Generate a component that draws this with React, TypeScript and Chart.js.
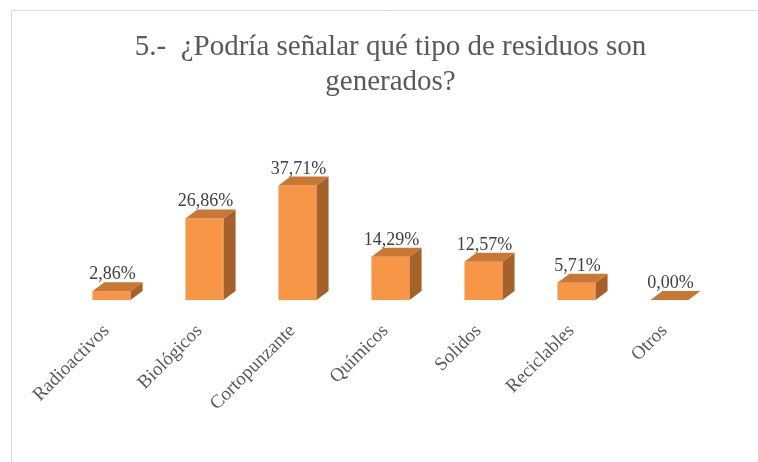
import React, { useEffect, useRef } from "react";
import { Chart, registerables } from "chart.js";

Chart.register(...registerables);

const categories = ["Radioactivos", "Biológicos", "Cortopunzante", "Químicos", "Solidos", "Reciclables", "Otros"];
const values = [2.86, 26.86, 37.71, 14.29, 12.57, 5.71, 0.0];
const valueLabels = ["2,86%", "26,86%", "37,71%", "14,29%", "12,57%", "5,71%", "0,00%"];
const titleLines = ["5.-  ¿Podría señalar qué tipo de residuos son", "generados?"];

const FRONT = "#F79646";
const TOP = "#C97735";
const SIDE = "#A6602A";
const DX = 12;
const DY = 9;

const framePlugin = {
  id: "frame",
  beforeDraw(chart: any) {
    const ctx = chart.ctx;
    ctx.save();
    ctx.fillStyle = "#ffffff";
    ctx.fillRect(0, 0, chart.width, chart.height);
    ctx.strokeStyle = "#d9d9d9";
    ctx.lineWidth = 1;
    ctx.beginPath();
    ctx.moveTo(11.5, chart.height);
    ctx.lineTo(11.5, 10.5);
    ctx.lineTo(chart.width, 10.5);
    ctx.stroke();
    ctx.restore();
  },
};

const bar3dPlugin = {
  id: "bar3d",
  afterDatasetsDraw(chart: any) {
    const ctx = chart.ctx;
    const meta = chart.getDatasetMeta(0);
    ctx.save();
    meta.data.forEach((bar: any, i: number) => {
      const { x, y, base, width } = bar.getProps(["x", "y", "base", "width"], true);
      const l = x - width / 2;
      const r = x + width / 2;
      ctx.fillStyle = SIDE;
      ctx.beginPath();
      ctx.moveTo(r, y);
      ctx.lineTo(r + DX, y - DY);
      ctx.lineTo(r + DX, base - DY);
      ctx.lineTo(r, base);
      ctx.closePath();
      ctx.fill();
      ctx.fillStyle = TOP;
      ctx.beginPath();
      ctx.moveTo(l, y);
      ctx.lineTo(l + DX, y - DY);
      ctx.lineTo(r + DX, y - DY);
      ctx.lineTo(r, y);
      ctx.closePath();
      ctx.fill();
      ctx.fillStyle = "#404040";
      ctx.font = "18px 'Liberation Serif'";
      ctx.textAlign = "center";
      ctx.textBaseline = "alphabetic";
      ctx.fillText(valueLabels[i], x + 1, y - DY - 3);
    });
    const xs = chart.scales.x;
    ctx.fillStyle = "#595959";
    ctx.font = "19px 'Liberation Serif'";
    ctx.textAlign = "right";
    ctx.textBaseline = "middle";
    categories.forEach((c, i) => {
      const px = xs.getPixelForTick(i);
      ctx.save();
      ctx.translate(px - 5, 328);
      ctx.rotate(-Math.PI / 4);
      ctx.fillText(c, 0, 0);
      ctx.restore();
    });
    ctx.restore();
  },
};

export default function App() {
  const ref = useRef<HTMLCanvasElement>(null);
  useEffect(() => {
    document.body.style.margin = "0";
    const chart = new Chart(ref.current as HTMLCanvasElement, {
      type: "bar",
      data: {
        labels: categories,
        datasets: [
          {
            data: values,
            backgroundColor: FRONT,
            borderWidth: 0,
            categoryPercentage: 0.41,
            barPercentage: 1,
          },
        ],
      },
      options: {
        responsive: false,
        animation: false,
        layout: { padding: { left: 65, right: 42, top: 0, bottom: 162 } },
        plugins: {
          legend: { display: false },
          tooltip: { enabled: false },
          title: {
            display: true,
            text: titleLines,
            color: "#595959",
            font: { family: "'Liberation Serif'", size: 29, weight: "normal", lineHeight: 1.2 },
            padding: { top: 30, bottom: 79 },
          },
        },
        scales: {
          x: { display: false },
          y: { display: false, min: 0, max: 40 },
        },
      },
      plugins: [framePlugin, bar3dPlugin],
    });
    return () => chart.destroy();
  }, []);
  return (
    <div style={{ position: "absolute", left: 0, top: 0, width: 758, height: 462 }}>
      <canvas ref={ref} width={758} height={462} style={{ width: 758, height: 462 }} />
    </div>
  );
}
